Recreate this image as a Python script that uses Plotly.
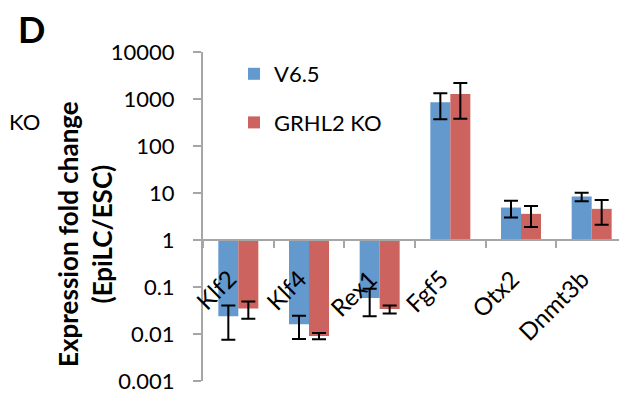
import plotly.graph_objects as go

OFF = 8  # page body margin
W, H = 627 - OFF, 395 - OFF
L, R, T, B = 203 - OFF, 0, 52 - OFF, 14

genes = ["Klf2", "Klf4", "Rex1", "Fgf5", "Otx2", "Dnmt3b"]
v65 = [0.024, 0.0162, 0.058, 850, 4.9, 8.4]
v65_err = [0.0165, 0.0084, 0.034, 480, 1.9, 1.75]
ko = [0.035, 0.0091, 0.034, 1280, 3.6, 4.6]
ko_err = [0.014, 0.0014, 0.0066, 900, 1.7, 2.5]
ytick_vals = [0.001, 0.01, 0.1, 1, 10, 100, 1000, 10000]
ytick_text = ["0.001", "0.01", "0.1", "1", "10", "100", "1000", "10000"]

BLUE = "#6399CC"
RED = "#CD635F"
AXC = "#A6A6A6"
FONT = "Lato"
BW = 0.283

# screen px -> paper fraction (plot area is screen x 203..627, y 52..381)
def px(x):
    return (x - 203) / 424

def py(y):
    return (381 - y) / 329

idx = list(range(len(genes)))
fig = go.Figure()
fig.add_trace(go.Bar(x=idx, y=[v - 1 for v in v65], base=1, width=BW, offset=-BW,
                     marker=dict(color=BLUE, line=dict(width=0)), name="V6.5",
                     legendgroup="a"))
fig.add_trace(go.Bar(x=idx, y=[v - 1 for v in ko], base=1, width=BW, offset=0,
                     marker=dict(color=RED, line=dict(width=0)), name="GRHL2 KO",
                     legendgroup="b"))
for vals, errs, sh in [(v65, v65_err, -BW / 2), (ko, ko_err, BW / 2)]:
    fig.add_trace(go.Scatter(x=[i + sh for i in idx], y=vals, mode="markers",
                             marker=dict(color="rgba(0,0,0,0)", size=1),
                             error_y=dict(type="data", array=errs, color="black",
                                          thickness=2, width=7),
                             showlegend=False, hoverinfo="skip"))

ann = []
for i, g in enumerate(genes):
    ann.append(dict(x=i, y=0, xref="x", yref="y", text=g, showarrow=False,
                    textangle=-45, xanchor="right", yanchor="top",
                    xshift=6, yshift=-21, font=dict(family=FONT, size=24, color="black")))
ann.append(dict(x=px(31), y=py(29), xref="paper", yref="paper", text="<b>D</b>",
                xanchor="center", yanchor="middle",
                showarrow=False, font=dict(family=FONT, size=36, color="black")))
ann.append(dict(x=px(OFF), y=py(122), xref="paper", yref="paper", text="KO",
                xanchor="left", yanchor="middle", borderpad=0,
                showarrow=False, font=dict(family=FONT, size=22, color="black")))
ann.append(dict(x=px(85), y=py(234), xref="paper", yref="paper",
                text="<b>Expression fold change</b><br><b>(EpiLC/ESC)</b>",
                xanchor="center", yanchor="middle",
                showarrow=False, textangle=-90,
                font=dict(family=FONT, size=26, color="black")))

fig.update_layout(
    width=W, height=H, margin=dict(l=L, r=R, t=T, b=B),
    paper_bgcolor="white", plot_bgcolor="white",
    font=dict(family=FONT, size=22, color="black"),
    showlegend=True,
    legend=dict(x=px(234), y=py(53), xanchor="left", yanchor="top",
                font=dict(family=FONT, size=22), tracegroupgap=17,
                bgcolor="rgba(0,0,0,0)"),
    annotations=ann,
    xaxis=dict(range=[-0.5, 5.5], tickvals=[i - 0.5 for i in range(7)],
               showticklabels=False, ticks="outside", ticklen=7, tickcolor=AXC,
               tickwidth=2, showline=True, linecolor=AXC, linewidth=2,
               showgrid=False, zeroline=False, anchor="free", position=3 / 7),
    yaxis=dict(type="log", range=[-3, 4], tickvals=ytick_vals, ticktext=ytick_text,
               ticks="outside", ticklen=8, tickcolor=AXC, tickwidth=2,
               showline=True, linecolor=AXC, linewidth=2, showgrid=False,
               zeroline=False, ticklabelstandoff=14,
               tickfont=dict(family=FONT, size=22, color="black")),
)
fig.write_html("out.html")
